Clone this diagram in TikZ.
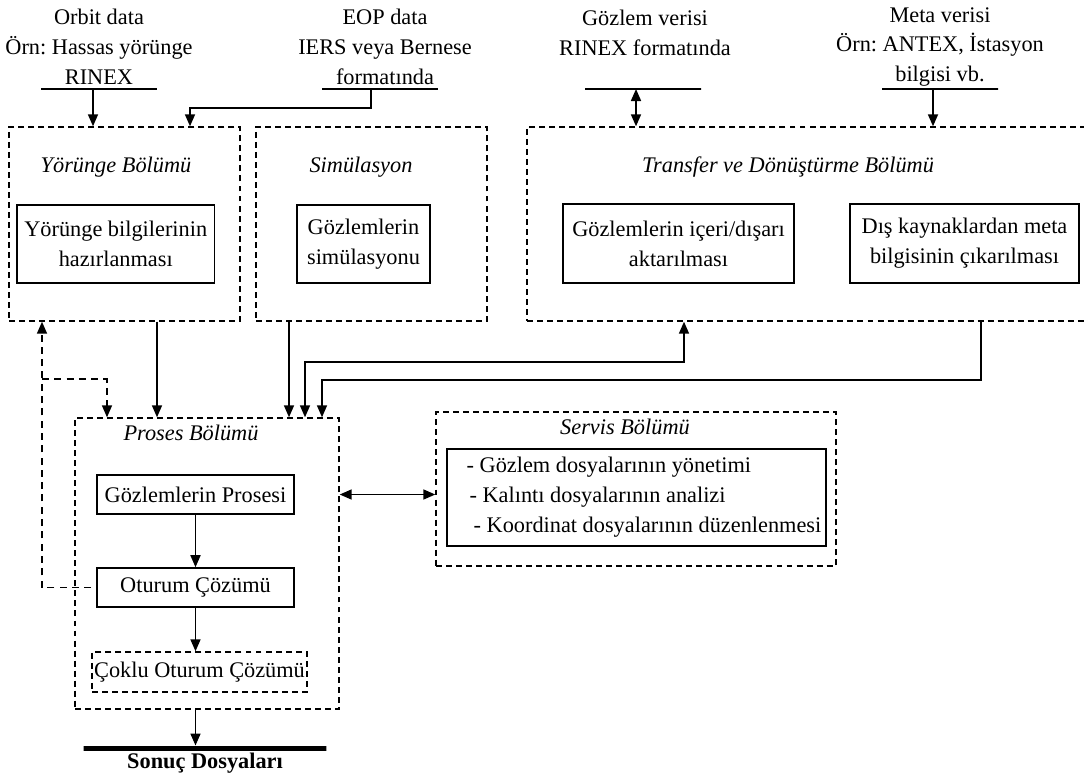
\documentclass[tikz,border=0pt]{standalone}
\usepackage{fontspec}
\setmainfont{Liberation Serif}
\usetikzlibrary{positioning,fit,arrows.meta}
\frenchspacing

\begin{document}
\begin{tikzpicture}[
    x=0.02cm, y=-0.02cm,
    font=\fontsize{12.7}{17}\selectfont,
    group/.style={draw,dash pattern=on 3.4pt off 2.3pt,line width=0.8pt,inner sep=0pt},
    process/.style={rectangle,draw,line width=0.9pt,align=center,inner sep=1pt},
    title/.style={font=\fontsize{12.7}{17}\selectfont\itshape},
    source/.style={align=center,inner sep=0pt},
    bar/.style={draw,line width=0.8pt,minimum height=0pt,inner sep=0pt},
    arrow/.style={-{Triangle[length=0.24cm,width=0.2cm]},line width=0.95pt},
    dblarrow/.style={{Triangle[length=0.24cm,width=0.2cm]}-{Triangle[length=0.24cm,width=0.2cm]},line width=0.95pt},
    feedback/.style={arrow,dash pattern=on 4pt off 3pt}
  ]
    \useasboundingbox (0,0) rectangle (1084,778);

    % girdiler
    \node[source] (orbitsrc) at (99,47) {Orbit data\\Örn: Hassas yörünge\\RINEX};
    \node[source] (eopsrc) at (385,47) {EOP data\\IERS veya Bernese\\formatında};
    \node[source] (gozlemsrc) at (645,33) {Gözlem verisi\\RINEX formatında};
    \node[source] (metasrc) at (940,47) {Meta verisi\\Örn: ANTEX, İstasyon\\bilgisi vb.};
    \node[bar,minimum width=2.32cm] (orbitbar) at (99,89) {};
    \node[bar,minimum width=2.32cm] (eopbar) at (380,89) {};
    \node[bar,minimum width=2.32cm] (gozlembar) at (643,89) {};
    \node[bar,minimum width=2.32cm] (metabar) at (940,89) {};

    % bolumler
    \node[group,fit={(9,127) (240,321)}] (yorunge) {};
    \node[group,fit={(256,127) (487,321)}] (simul) {};
    \node[group,fit={(527,127) (1090,321)}] (transfer) {};
    \node[group,fit={(75,418) (339,709)}] (proses) {};
    \node[group,fit={(436,412) (836,566)}] (servis) {};

    \node[title] (yorungetitle) at (116,167) {Yörünge Bölümü};
    \node[title] (simultitle) at (361,167) {Simülasyon};
    \node[title] (transfertitle) at (788,167) {Transfer ve Dönüştürme Bölümü};
    \node[title] (prosestitle) at (191,433) {Proses Bölümü};
    \node[title] (servistitle) at (625,427) {Servis Bölümü};

    \node[process,minimum width=3.95cm,minimum height=1.56cm] (yorungebox) at (115.75,244) {Yörünge bilgilerinin\\hazırlanması};
    \node[process,minimum width=2.66cm,minimum height=1.56cm] (simulbox) at (363.5,244) {Gözlemlerin\\simülasyonu};
    \node[process,minimum width=4.62cm,minimum height=1.58cm] (aktarbox) at (678.5,243.5) {Gözlemlerin içeri/dışarı\\aktarılması};
    \node[process,minimum width=4.58cm,minimum height=1.58cm] (metabox) at (964.5,243.5) {Dış kaynaklardan meta\\bilgisinin çıkarılması};
    \node[process,minimum width=3.94cm,minimum height=0.78cm] (prosesibox) at (195.5,494.5) {Gözlemlerin Prosesi};
    \node[process,minimum width=3.94cm,minimum height=0.78cm] (oturumbox) at (195.5,587.5) {Oturum Çözümü};
    \node[process,dash pattern=on 3.4pt off 2.3pt,line width=0.8pt,minimum width=4.3cm,minimum height=0.8cm] (coklubox) at (199.5,672) {Çoklu Oturum Çözümü};
    \node[process,align=left,minimum width=7.58cm,minimum height=1.94cm] (servisbox) at (636.5,497.5) {\hspace{8.5pt}- Gözlem dosyalarının yönetimi\\\hspace{10.2pt}- Kalıntı dosyalarının analizi\\\hspace{12.5pt}- Koordinat dosyalarının düzenlenmesi};

    \node[bar,line width=0.1cm,minimum width=4.86cm] (sonucbar) at (205,748) {};
    \node[below=-2pt of sonucbar,font=\fontsize{12.7}{17}\selectfont\bfseries] (sonuc) {Sonuç Dosyaları};

    % baglanti noktalari
    \coordinate (orbitout) at (93,89);
    \coordinate (eopout) at (371,89);
    \coordinate (eopin) at (190,0);
    \coordinate (gozlemout) at (636,89);
    \coordinate (metaout) at (933,89);
    \coordinate (yorout) at (157,0);
    \coordinate (simout) at (289,0);
    \coordinate (aktarx) at (684,0);
    \coordinate (aktarin) at (305,0);
    \coordinate (metax) at (981,0);
    \coordinate (metain) at (322,0);
    \coordinate (geridon) at (42,0);
    \coordinate (gerisplit) at (42,379);
    \coordinate (geriin) at (107,0);

    \draw[arrow] (orbitout) -- (orbitout |- yorunge.north);
    \draw[arrow] (eopout) -- ++(0,19) -| (eopin |- yorunge.north);
    \draw[dblarrow] (gozlemout) -- (gozlemout |- transfer.north);
    \draw[arrow] (metaout) -- (metaout |- transfer.north);
    \draw[arrow] (yorout |- yorunge.south) -- (yorout |- proses.north);
    \draw[arrow] (simout |- simul.south) -- (simout |- proses.north);
    \draw[dblarrow] (aktarx |- transfer.south) -- ++(0,40) -| (aktarin |- proses.north);
    \draw[arrow] (metax |- transfer.south) -- ++(0,58) -| (metain |- proses.north);
    \draw[feedback] ([xshift=-0.1cm]oturumbox.west) -| (geridon |- yorunge.south);
    \draw[feedback] (gerisplit) -| (geriin |- proses.north);
    \draw[dblarrow] (proses.east |- prosesibox) -- (servis.west |- prosesibox);
    \draw[arrow] (prosesibox) -- (oturumbox);
    \draw[arrow] (oturumbox.south) -- (oturumbox.south |- coklubox.north);
    \draw[arrow] (oturumbox |- proses.south) -- (oturumbox |- sonucbar.north);
\end{tikzpicture}
\end{document}
